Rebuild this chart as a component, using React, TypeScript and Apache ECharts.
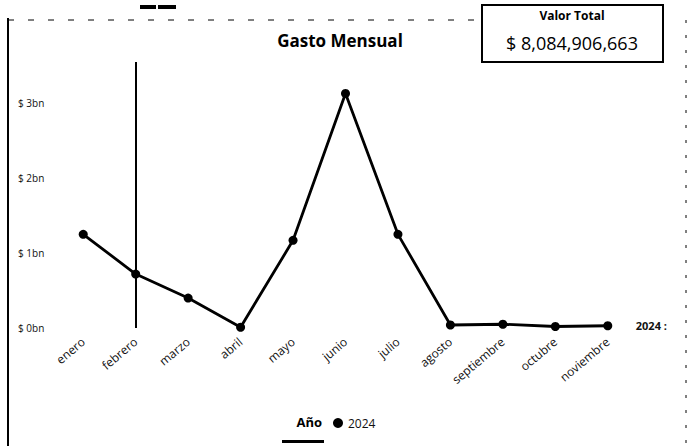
import React, { useEffect, useRef } from "react";
import * as echarts from "echarts";

const months = ["enero", "febrero", "marzo", "abril", "mayo", "junio", "julio", "agosto", "septiembre", "octubre", "noviembre"];
const spendBn = [1.25, 0.72, 0.40, 0.01, 1.17, 3.13, 1.25, 0.04, 0.05, 0.02, 0.03];
const seriesName = "2024";
const legendTitle = "Año";
const chartTitle = "Gasto Mensual";
const totalLabel = "Valor Total";
const totalValue = "$ 8,084,906,663";
const yTicks = [0, 1, 2, 3];

export default function App() {
  const ref = useRef<HTMLDivElement>(null);
  useEffect(() => {
    const chart = echarts.init(ref.current!, null, { renderer: "svg" });
    const font = "'Open Sans', 'DejaVu Sans', sans-serif";
    chart.setOption({
      animation: false,
      textStyle: { fontFamily: font },
      grid: { left: 57, right: 58, top: 62, bottom: 118 },
      xAxis: {
        type: "category",
        data: months,
        boundaryGap: true,
        axisLine: { show: false },
        axisTick: { show: false },
        axisLabel: { rotate: 40, fontSize: 12, color: "#111", margin: 12, fontFamily: font },
      },
      yAxis: {
        type: "value",
        min: 0,
        max: 3.55,
        interval: 1,
        splitLine: { show: false },
        axisLine: { show: false },
        axisTick: { show: false },
        axisLabel: {
          align: "left",
          margin: 39,
          fontSize: 10,
          color: "#111",
          fontFamily: font,
          formatter: (v: number) => (yTicks.includes(v) ? `$ ${v}bn` : ""),
        },
      },
      legend: {
        data: [seriesName],
        left: 328,
        top: 412,
        icon: "circle",
        itemWidth: 10,
        itemHeight: 10,
        itemGap: 4,
        textStyle: { fontSize: 12, color: "#111", fontFamily: font },
      },
      series: [
        {
          name: seriesName,
          type: "line",
          data: spendBn,
          symbol: "circle",
          symbolSize: 9,
          itemStyle: { color: "#000" },
          lineStyle: { color: "#000", width: 2.8 },
          endLabel: {
            show: true,
            formatter: "2024 :",
            distance: 28,
            fontSize: 11,
            fontWeight: "bold",
            color: "#111",
            fontFamily: font,
          },
          markLine: {
            silent: true,
            symbol: "none",
            label: { show: false },
            lineStyle: { color: "#000", width: 2, type: "solid" },
            data: [[{ xAxis: "febrero", yAxis: 0 }, { xAxis: "febrero", yAxis: 3.55 }]],
          },
        },
      ],
      graphic: [
        { type: "line", shape: { x1: 8, y1: 18, x2: 8, y2: 446 }, style: { stroke: "#000", lineWidth: 2 } },
        { type: "line", shape: { x1: 8, y1: 20, x2: 480, y2: 20 }, style: { stroke: "#000", lineWidth: 1, lineDash: [6, 14] } },
        { type: "line", shape: { x1: 686, y1: 20, x2: 686, y2: 446 }, style: { stroke: "#000", lineWidth: 1, lineDash: [3, 12] } },
        { type: "rect", shape: { x: 140, y: 5, width: 16, height: 4 }, style: { fill: "#000" } },
        { type: "rect", shape: { x: 158, y: 5, width: 18, height: 4 }, style: { fill: "#000" } },
        { type: "rect", shape: { x: 482, y: 5, width: 181, height: 57 }, style: { fill: "#fff", stroke: "#000", lineWidth: 2 } },
        {
          type: "text",
          x: 572, y: 15,
          style: { text: totalLabel, fontSize: 12, fontWeight: "bold", fill: "#000", align: "center", verticalAlign: "middle", fontFamily: font },
        },
        {
          type: "text",
          x: 572, y: 43,
          style: { text: totalValue, fontSize: 18, fill: "#000", align: "center", verticalAlign: "middle", fontFamily: font },
        },
        {
          type: "text",
          x: 340, y: 40,
          style: { text: chartTitle, fontSize: 17, fontWeight: "bold", fill: "#000", align: "center", verticalAlign: "middle", fontFamily: font },
        },
        {
          type: "text",
          x: 322, y: 422,
          style: { text: legendTitle, fontSize: 13, fontWeight: "bold", fill: "#000", align: "right", verticalAlign: "middle", fontFamily: font },
        },
        { type: "rect", shape: { x: 282, y: 440, width: 42, height: 3 }, style: { fill: "#000" } },
      ],
    });
    return () => chart.dispose();
  }, []);
  return <div ref={ref} style={{ position: "absolute", left: 0, top: 0, width: 692, height: 446, background: "#fff" }} />;
}
